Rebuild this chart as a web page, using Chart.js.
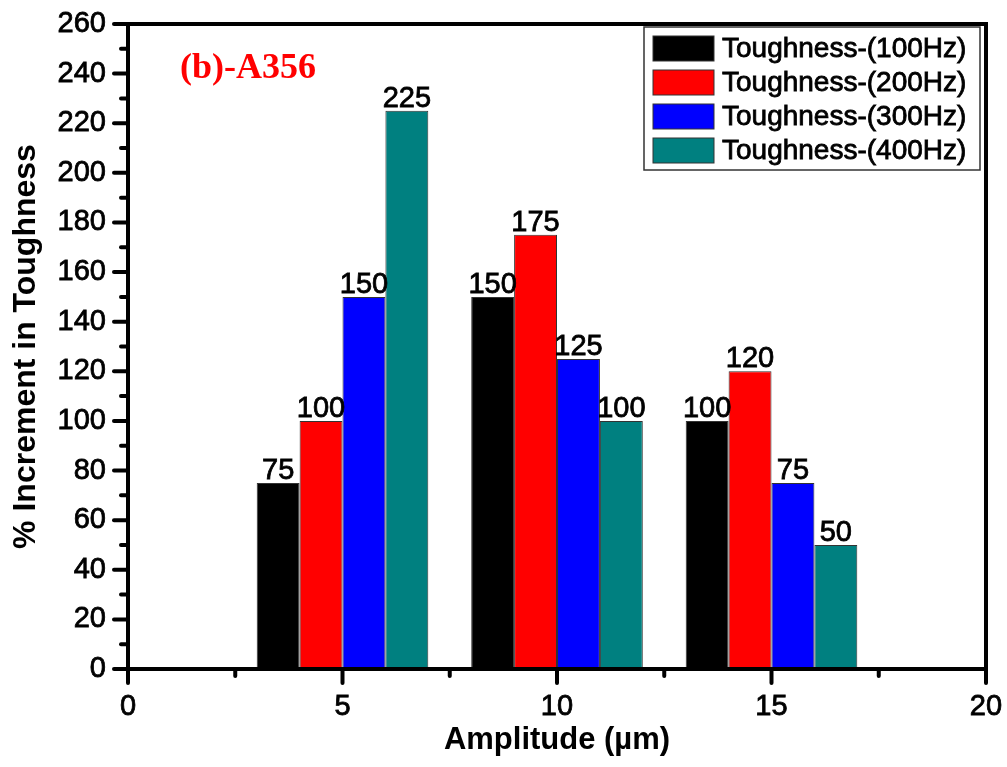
<!DOCTYPE html>
<html>
<head>
<meta charset="utf-8">
<script src="https://cdn.jsdelivr.net/npm/chart.js@4/dist/chart.umd.min.js"></script>
<style>
  html, body { margin: 0; padding: 0; background: #fff; }
  canvas { display: block; }
</style>
</head>
<body>
<canvas id="toughChart" width="1007" height="767"></canvas>
<script>
// amplitude groups (µm) and % increment per frequency
const amplitudes = [5, 10, 15];
const seriesNames = ['Toughness-(100Hz)', 'Toughness-(200Hz)', 'Toughness-(300Hz)', 'Toughness-(400Hz)'];
const tough100 = [75, 150, 100];
const tough200 = [100, 175, 120];
const tough300 = [150, 125, 75];
const tough400 = [225, 100, 50];
const seriesColors = ['#000000', '#ff0000', '#0000ff', '#008080'];

const FONT = '"Liberation Sans", Arial, Helvetica, sans-serif';
const HEAVY = 0.8; // extra stroke so regular text reads a little heavier

const series = [tough100, tough200, tough300, tough400];

const datasets = series.map((vals, k) => ({
  label: seriesNames[k],
  data: amplitudes.map((a, i) => ({ x: a, y: vals[i] })),
  backgroundColor: seriesColors[k],
  borderColor: '#333',
  borderWidth: 1,
  categoryPercentage: 0.8,
  barPercentage: 1.0
}));

// keep the plot box where the layout padding puts it
function noOverhang(scale) {
  scale.paddingTop = 0;
  scale.paddingBottom = 0;
  scale.paddingLeft = 0;
  scale.paddingRight = 0;
}

function heavyText(ctx, text, x, y) {
  ctx.lineWidth = HEAVY;
  ctx.strokeStyle = '#000';
  ctx.strokeText(text, x, y);
  ctx.fillText(text, x, y);
}

// frame, tick marks, bar values, legend box and panel tag
const decorations = {
  id: 'decorations',
  afterDraw(chart) {
    const ctx = chart.ctx;
    const area = chart.chartArea;
    const xs = chart.scales.x;
    const ys = chart.scales.y;
    ctx.save();

    // values above the bars
    ctx.fillStyle = '#000';
    ctx.font = '29px ' + FONT;
    ctx.textAlign = 'center';
    ctx.textBaseline = 'alphabetic';
    chart.data.datasets.forEach((ds, k) => {
      chart.getDatasetMeta(k).data.forEach((bar, i) => {
        heavyText(ctx, String(ds.data[i].y), bar.x, bar.y - 4);
      });
    });

    // tick marks pointing outward
    ctx.strokeStyle = '#000';
    ctx.lineCap = 'round';
    ctx.lineWidth = 4;
    for (let v = 0; v <= 260; v += 10) {
      const y = ys.getPixelForValue(v);
      const len = v % 20 === 0 ? 14 : 7;
      ctx.beginPath();
      ctx.moveTo(area.left, y);
      ctx.lineTo(area.left - len, y);
      ctx.stroke();
    }
    for (let v = 0; v <= 20; v += 2.5) {
      const x = xs.getPixelForValue(v);
      const len = v % 5 === 0 ? 14 : 7;
      ctx.beginPath();
      ctx.moveTo(x, area.bottom);
      ctx.lineTo(x, area.bottom + len);
      ctx.stroke();
    }

    // plot frame
    ctx.lineCap = 'butt';
    ctx.lineWidth = 4;
    ctx.strokeRect(area.left, area.top, area.right - area.left, area.bottom - area.top);

    // legend
    const lx = 644, ly = 27, lw = 336, lh = 143;
    ctx.fillStyle = '#fff';
    ctx.fillRect(lx, ly, lw, lh);
    ctx.lineWidth = 1.5;
    ctx.strokeStyle = '#333';
    ctx.strokeRect(lx, ly, lw, lh);
    ctx.font = '28px ' + FONT;
    ctx.textAlign = 'left';
    ctx.textBaseline = 'middle';
    chart.data.datasets.forEach((ds, k) => {
      const ry = 36 + k * 34;
      ctx.fillStyle = ds.backgroundColor;
      ctx.fillRect(653, ry, 61, 25);
      ctx.lineWidth = 1;
      ctx.strokeStyle = '#333';
      ctx.strokeRect(653, ry, 61, 25);
      ctx.fillStyle = '#000';
      heavyText(ctx, ds.label, 722, ry + 13);
    });

    // panel tag
    ctx.fillStyle = '#ff0000';
    ctx.font = 'bold 36px "Liberation Serif", "Times New Roman", serif';
    ctx.textBaseline = 'alphabetic';
    ctx.fillText('(b)-A356', 180, 78);

    ctx.restore();
  }
};

new Chart(document.getElementById('toughChart'), {
  type: 'bar',
  data: { datasets: datasets },
  options: {
    responsive: false,
    animation: false,
    devicePixelRatio: 1,
    layout: { padding: { top: 24, right: 21, left: 0, bottom: 0 } },
    plugins: {
      legend: { display: false },
      tooltip: { enabled: false }
    },
    scales: {
      x: {
        type: 'linear',
        min: 0,
        max: 20,
        offset: false,
        grid: { display: false, offset: false },
        border: { display: false },
        ticks: {
          stepSize: 5,
          color: '#000',
          padding: 13,
          textStrokeColor: '#000',
          textStrokeWidth: HEAVY,
          font: { family: FONT, size: 29 }
        },
        title: {
          display: true,
          text: 'Amplitude (µm)',
          color: '#000',
          font: { family: FONT, size: 31, weight: 'bold' },
          padding: { top: 0, bottom: 8 }
        },
        afterFit(scale) { scale.height = 98; noOverhang(scale); }
      },
      y: {
        min: 0,
        max: 260,
        grid: { display: false },
        border: { display: false },
        ticks: {
          stepSize: 20,
          color: '#000',
          padding: 14,
          textStrokeColor: '#000',
          textStrokeWidth: HEAVY,
          font: { family: FONT, size: 29 }
        },
        title: {
          display: true,
          text: '% Increment in Toughness',
          color: '#000',
          font: { family: FONT, size: 32, weight: 'bold' },
          padding: { top: 7, bottom: 0 }
        },
        afterFit(scale) { scale.width = 128; noOverhang(scale); }
      }
    }
  },
  plugins: [decorations]
});
</script>
</body>
</html>
